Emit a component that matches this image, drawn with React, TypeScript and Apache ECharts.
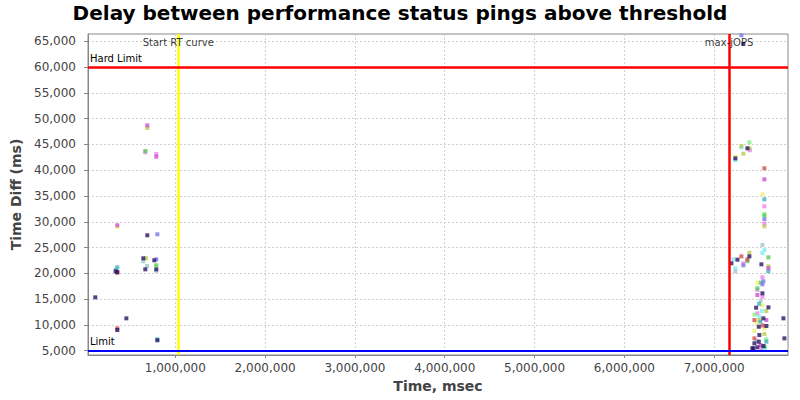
import React, { useEffect, useRef } from "react";
import * as echarts from "echarts";

const titleText = "Delay between performance status pings above threshold";
const xName = "Time, msec";
const yName = "Time Diff (ms)";
const xTicks = [1000000, 2000000, 3000000, 4000000, 5000000, 6000000, 7000000];
const yTicks = [5000, 10000, 15000, 20000, 25000, 30000, 35000, 40000, 45000, 50000, 55000, 60000, 65000];
const xMin = 27800;
const xMax = 7822000;
const yMin = 4170;
const yMax = 66415;

const startRT = 1033000;
const maxJOPS = 7166000;
const hardLimit = 60000;
const limit = 5000;

const navyPts = [
  [109000, 15350], [455000, 11280], [354000, 9010], [800000, 7020], [336000, 20400], [354000, 20260],
  [666000, 20780], [788000, 20780], [644000, 22920], [766000, 22530], [688000, 27380],
  [7325000, 64470], [7370000, 44250], [7236000, 42300], [7392000, 23300], [7259000, 22650], [7192000, 21950],
  [7526000, 21750], [7537000, 16130], [7604000, 13410], [7771000, 11280], [7782000, 7400], [7548000, 11280],
  [7497000, 9650], [7581000, 9790], [7503000, 8040], [7448000, 6430], [7497000, 6750], [7548000, 5910],
  [7437000, 5470], [7467000, 13340], [7481000, 5660], [7425000, 5470],
];
const magentaPts = [
  [688000, 48700], [788000, 42620], [354000, 29320],
  [7559000, 38230], [7604000, 21000], [7515000, 6100], [7581000, 10950], [7481000, 15800],
];
const olivePts = [
  [688000, 48200], [674000, 22920],
  [7303000, 44690], [7392000, 44250], [7325000, 43200], [7559000, 29120], [7392000, 24000], [7604000, 21370],
  [7559000, 8240], [7503000, 10950], [7580000, 12700],
];
const greenPts = [
  [666000, 43720], [788000, 21560],
  [7559000, 31180], [7604000, 23110], [7370000, 22390], [7481000, 17100], [7559000, 5780], [7520000, 18200],
];
const lightGreenPts = [
  [7392000, 45410], [7559000, 31500], [7450000, 12000], [7580000, 7200],
];
const lightBluePts = [
  [644000, 22330], [685000, 21420], [336000, 20780], [788000, 20500],
  [7537000, 25500], [7236000, 20400], [7520000, 14700], [7470000, 6900],
];
const tealPts = [
  [354000, 21170], [800000, 7210],
  [7559000, 34360], [7604000, 20400], [7515000, 10620], [7581000, 6750], [7500000, 14100],
];
const violetPts = [
  [800000, 27570], [788000, 22720],
  [7303000, 66160], [7559000, 30480], [7325000, 21560], [7537000, 17870], [7548000, 18460],
];
const pinkPts = [
  [666000, 43470], [788000, 43140],
  [7559000, 33000], [7559000, 29570], [7325000, 21950], [7537000, 19230], [7481000, 16800], [7537000, 15470],
  [7481000, 12250], [7526000, 5470], [7397000, 43880],
];
const yellowPts = [
  [354000, 29000],
  [7537000, 35330], [7236000, 42600], [7481000, 18180], [7537000, 13800], [7448000, 8880], [7470000, 10430],
  [7560000, 9300],
];
const redPts = [
  [354000, 9340], [354000, 20100],
  [7559000, 40370], [7303000, 23300], [7370000, 22700], [7448000, 10950], [7448000, 7400], [7540000, 9900],
];
const cyanPts = [
  [7303000, 44400], [7236000, 41950], [7559000, 24530], [7537000, 23940], [7214000, 22720], [7236000, 20980],
  [7503000, 11600], [7567000, 5470], [7530000, 12700],
];

const groups = [
  { name: "s1", color: "#f080f0", data: pinkPts },
  { name: "s2", color: "#f0f070", data: yellowPts },
  { name: "s3", color: "#80f0f0", data: cyanPts },
  { name: "s4", color: "#80f080", data: lightGreenPts },
  { name: "s5", color: "#a0c8d0", data: lightBluePts },
  { name: "s6", color: "#b8d050", data: olivePts },
  { name: "s7", color: "#50d050", data: greenPts },
  { name: "s8", color: "#40b0c0", data: tealPts },
  { name: "s9", color: "#7878f0", data: violetPts },
  { name: "s10", color: "#d050d0", data: magentaPts },
  { name: "s11", color: "#d05050", data: redPts },
  { name: "s12", color: "#2b1566", data: navyPts },
];

const fmt = (v: number) => Math.round(v).toLocaleString("en-US");

export default function App() {
  const ref = useRef<HTMLDivElement>(null);
  useEffect(() => {
    document.body.style.margin = "0";
    const chart = echarts.init(ref.current!, null, { renderer: "svg" });
    const font = "DejaVu Sans";
    chart.setOption({
      animation: false,
      backgroundColor: "#ffffff",
      textStyle: { fontFamily: font },
      title: {
        text: titleText,
        left: "center",
        top: -2,
        textStyle: { fontFamily: font, fontSize: 20, fontWeight: "bold", color: "#000" },
      },
      grid: {
        left: 88, right: 12, top: 34, bottom: 45,
        show: true, borderColor: "#888", borderWidth: 1, backgroundColor: "#fff",
      },
      xAxis: {
        type: "value",
        min: xMin,
        max: xMax,
        name: xName,
        nameLocation: "middle",
        nameGap: 24,
        nameTextStyle: { fontFamily: font, fontSize: 14, fontWeight: "bold", color: "#444" },
        axisLine: { show: true, lineStyle: { color: "#888" } },
        axisTick: { show: true, length: 3, customValues: xTicks, lineStyle: { color: "#888" } },
        axisLabel: { customValues: xTicks, formatter: fmt, fontSize: 12, color: "#444", margin: 7 },
        splitLine: { show: true, lineStyle: { color: "#cfcfcf", type: [2, 2], width: 1 } },
      },
      yAxis: {
        type: "value",
        min: yMin,
        max: yMax,
        name: yName,
        nameLocation: "middle",
        nameGap: 60,
        nameTextStyle: { fontFamily: font, fontSize: 14, fontWeight: "bold", color: "#444" },
        axisLine: { show: true, lineStyle: { color: "#888" } },
        axisTick: { show: true, length: 4, customValues: yTicks, lineStyle: { color: "#888" } },
        axisLabel: { customValues: yTicks, formatter: fmt, fontSize: 12, color: "#444", margin: 12 },
        splitLine: { show: true, lineStyle: { color: "#cfcfcf", type: [2, 2], width: 1 } },
      },
      series: [
        ...groups.map((g) => ({
          type: "scatter",
          name: g.name,
          symbol: "rect",
          symbolSize: 4,
          itemStyle: { color: g.color },
          data: g.data,
          z: 3,
        })),
        {
          type: "scatter",
          name: "markers",
          data: [],
          z: 4,
          markLine: {
            silent: true,
            symbol: ["none", "none"],
            animation: false,
            data: [
              { xAxis: startRT, lineStyle: { color: "#ffff00", width: 2.5, type: "solid" }, label: { show: false } },
              { xAxis: maxJOPS, lineStyle: { color: "#ff0000", width: 2.5, type: "solid" }, label: { show: false } },
              {
                yAxis: hardLimit,
                lineStyle: { color: "#ff0000", width: 2.5, type: "solid" },
                label: { show: true, formatter: "Hard Limit", position: "insideStartTop", color: "#000", fontSize: 10, fontFamily: font, distance: [2, 4] },
              },
              {
                yAxis: limit,
                lineStyle: { color: "#0000ff", width: 2, type: "solid" },
                label: { show: true, formatter: "Limit", position: "insideStartTop", color: "#000", fontSize: 10, fontFamily: font, distance: [2, 4] },
              },
            ],
          },
        },
        {
          type: "scatter",
          name: "labels",
          symbol: "rect",
          symbolSize: 1,
          itemStyle: { color: "rgba(0,0,0,0)" },
          z: 5,
          data: [
            { name: "Start RT curve", value: [startRT, 64860] },
            { name: "max-jOPS", value: [maxJOPS, 64860] },
          ],
          label: { show: true, position: "inside", formatter: "{b}", color: "#000", fontSize: 10, fontFamily: font },
        },
      ],
    });
    return () => chart.dispose();
  }, []);
  return <div ref={ref} style={{ width: 800, height: 400 }} />;
}
